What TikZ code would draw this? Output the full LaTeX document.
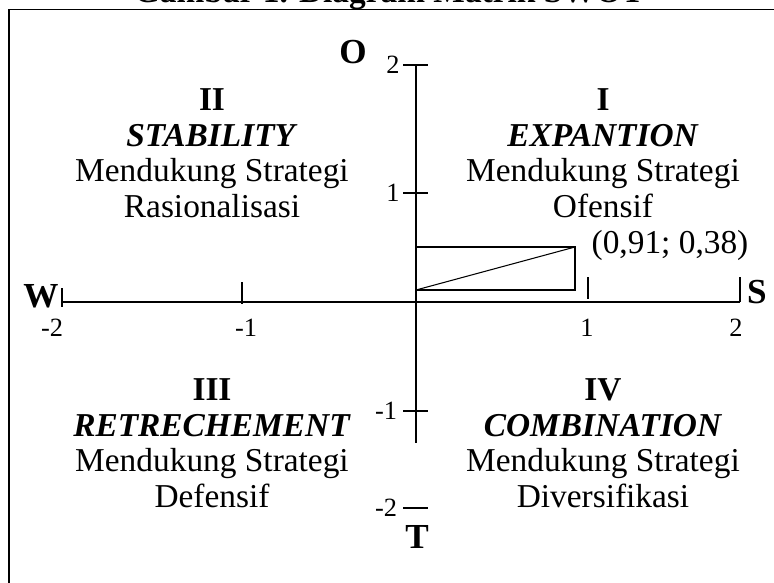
\documentclass[tikz,border=0pt]{standalone}
\usepackage{fontspec}
\setmainfont{Liberation Serif}
\usepackage{tikz}
\usetikzlibrary{positioning}
\tikzset{
  quadtext/.style={anchor=base,inner sep=0pt,font=\fontsize{19}{22}\selectfont},
  axislbl/.style={anchor=base,inner sep=0pt,font=\fontsize{20}{23}\selectfont\bfseries},
  ticklbl/.style={anchor=base,inner sep=0pt,font=\fontsize{15}{18}\selectfont},
  axisline/.style={line width=0.85pt},
}

\begin{document}
\begin{tikzpicture}[x=0.02cm,y=-0.02cm]
\useasboundingbox (0,0) rectangle (774,582);
\clip (0,0) rectangle (774,582);
% title and frame
\node[anchor=base,inner sep=0pt,font=\fontsize{19}{22}\selectfont\bfseries] (title) at (389,2) {Gambar 1. Diagram Matrik SWOT};
\draw[line width=0.7pt] (9,590) -- (9,9.5) -- (780,9.5);
% axes
\coordinate (west) at (62,302);
\coordinate (east) at (740,302);
\coordinate (north) at (416,65);
\coordinate (south) at (416,443);
\draw[axisline] (west) -- (east);
\draw[axisline] (north) -- (south);
\node[axislbl] (W) at (41,307) {W};
\node[axislbl] (S) at (757,303) {S};
\node[axislbl] (O) at (353,63) {O};
\node[axislbl] (T) at (417,548) {T};
% ticks on the S-W axis
\draw[axisline] (62,288) -- (62,307);
\draw[axisline] (242,282) -- (242,304);
\draw[axisline] (588,277) -- (588,299);
\draw[axisline] (740,277) -- (740,302);
\foreach \x/\lbl/\nm in {52/-2/xm2,246/-1/xm1,587/1/xp1,736/2/xp2}{
  \node[ticklbl] (\nm) at (\x,336) {\lbl};
}
% ticks on the O-T axis
\foreach \y/\lbl/\nm/\lx in {65/2/yp2/393,193/1/yp1/393,411/-1/ym1/386,508/-2/ym2/386}{
  \draw[axisline] (403,\y) -- (428,\y);
  \node[ticklbl] (\nm) at (\lx,\y+8) {\lbl};
}
% position of the company
\coordinate (boxbl) at (416,290);
\coordinate (point) at (575,247);
\draw[line width=0.6pt] (boxbl) rectangle (point);
\draw[line width=0.6pt] (boxbl) -- (point);
\node[quadtext] (pointlbl) at (670,253) {(0,91; 0,38)};
% quadrants
\foreach \nm/\x/\y/\num/\name/\strat in {
  q1/603/110/I/EXPANTION/Ofensif,
  q2/212/110/II/STABILITY/Rasionalisasi,
  q3/212/400/III/RETRECHEMENT/Defensif,
  q4/603/400/IV/COMBINATION/Diversifikasi}{
  \node[quadtext] (\nm num) at (\x,\y) {\textbf{\num}};
  \node[quadtext] (\nm name) at (\x,\y+36) {\textbf{\textit{\name}}};
  \node[quadtext] (\nm sup) at (\x,\y+71) {Mendukung Strategi};
  \node[quadtext] (\nm strat) at (\x,\y+107) {\strat};
}
\end{tikzpicture}
\end{document}
